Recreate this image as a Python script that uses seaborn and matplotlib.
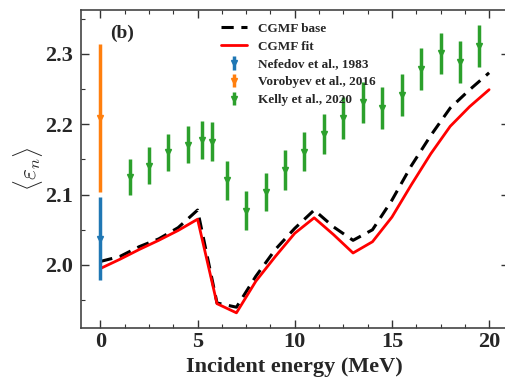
import numpy as np
import pandas as pd
import seaborn as sns
import matplotlib
matplotlib.use("Agg")
import matplotlib.pyplot as plt
from matplotlib.ticker import MultipleLocator

# CGMF calculations: mean prompt neutron energy vs incident neutron energy
cgmf_energy = [0, 1, 2, 3, 4, 5, 6, 7, 8, 9, 10, 11, 12, 13, 14, 15, 16, 17, 18, 19, 20]
cgmf_base = [2.005, 2.012, 2.026, 2.037, 2.053, 2.078, 1.946, 1.940, 1.984, 2.022,
             2.052, 2.078, 2.054, 2.035, 2.050, 2.092, 2.141, 2.184, 2.223, 2.249, 2.273]
cgmf_fit = [1.995, 2.008, 2.022, 2.035, 2.049, 2.065, 1.945, 1.932, 1.977, 2.012,
            2.045, 2.067, 2.043, 2.017, 2.033, 2.068, 2.114, 2.158, 2.197, 2.225, 2.249]

# Measurements
nefedov_x = [0.0]
nefedov_y = [2.037]
nefedov_err = [0.059]

vorobyev_x = [0.0]
vorobyev_y = [2.209]
vorobyev_err = [0.105]

kelly_x = [1.5, 2.5, 3.5, 4.5, 5.25, 5.75, 6.5, 7.5, 8.5, 9.5, 10.5, 11.5,
           12.5, 13.5, 14.5, 15.5, 16.5, 17.5, 18.5, 19.5]
kelly_y = [2.125, 2.141, 2.160, 2.171, 2.178, 2.175, 2.120, 2.077, 2.103, 2.135,
           2.161, 2.186, 2.209, 2.231, 2.223, 2.242, 2.278, 2.301, 2.288, 2.311]
kelly_err = [0.025, 0.026, 0.026, 0.026, 0.027, 0.028, 0.028, 0.028, 0.027, 0.028,
             0.028, 0.029, 0.030, 0.029, 0.030, 0.030, 0.030, 0.029, 0.030, 0.030]

sns.set_style("ticks")
plt.rcParams["font.family"] = ["Liberation Serif", "DejaVu Serif"]
plt.rcParams["font.weight"] = "bold"
plt.rcParams["mathtext.fontset"] = "cm"

fig = plt.figure(figsize=(5.06, 3.77), dpi=100)
ax = fig.add_axes([0.160, 0.131, 0.845, 0.843])

df = pd.DataFrame({"E": cgmf_energy + cgmf_energy,
                   "val": cgmf_base + cgmf_fit,
                   "model": ["CGMF base"] * len(cgmf_energy) + ["CGMF fit"] * len(cgmf_energy)})

sns.lineplot(data=df[df.model == "CGMF base"], x="E", y="val", ax=ax,
             color="black", lw=2.2, linestyle=(0, (4, 2.5)), label="CGMF base")
sns.lineplot(data=df[df.model == "CGMF fit"], x="E", y="val", ax=ax,
             color="red", lw=2.0, label="CGMF fit")

eb_kw = dict(fmt="v", ms=4, elinewidth=2.5, capsize=0)
ax.errorbar(nefedov_x, nefedov_y, yerr=nefedov_err, color="tab:blue",
            label="Nefedov et al., 1983", **eb_kw)
ax.errorbar(vorobyev_x, vorobyev_y, yerr=vorobyev_err, color="tab:orange",
            label="Vorobyev et al., 2016", **eb_kw)
ax.errorbar(kelly_x, kelly_y, yerr=kelly_err, color="tab:green",
            label="Kelly et al., 2020", **eb_kw)

ax.set_xlim(-1, 21)
ax.set_ylim(1.911, 2.3625)
ax.xaxis.set_major_locator(MultipleLocator(5))
ax.xaxis.set_minor_locator(MultipleLocator(1.25))
ax.yaxis.set_major_locator(MultipleLocator(0.1))
ax.yaxis.set_minor_locator(MultipleLocator(0.05))
ax.tick_params(which="both", direction="in", top=True, right=True,
               labelsize=16, color="#333333")
ax.tick_params(which="major", length=6, width=1)
ax.tick_params(which="minor", length=3, width=0.8)
ax.tick_params(axis="y", which="major", pad=6)
for lab in ax.get_xticklabels() + ax.get_yticklabels():
    lab.set_fontweight("bold")
for s in ax.spines.values():
    s.set_color("#444444")
    s.set_linewidth(1.2)

ax.set_xlabel("Incident energy (MeV)", fontsize=16, fontweight="bold", labelpad=3)
ax.set_ylabel(r"$\langle \varepsilon_n \rangle$", fontsize=17, labelpad=0)

ax.text(0.068, 0.925, "(b)", transform=ax.transAxes, fontsize=14,
        fontweight="bold", va="center", ha="left")

leg = ax.legend(loc="upper left", bbox_to_anchor=(0.305, 0.988), frameon=False,
                prop={"size": 9.5, "weight": "bold"}, handlelength=2.0,
                handletextpad=0.8, labelspacing=0.42, borderpad=0.2)

fig.savefig("out.png", dpi=100)
